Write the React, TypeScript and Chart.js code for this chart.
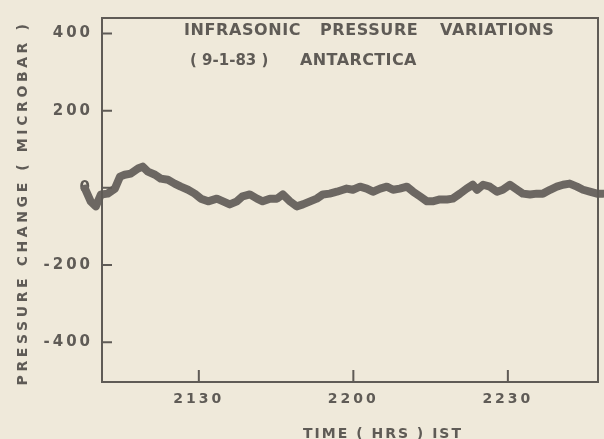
import React, { useEffect, useRef } from "react";
import { Chart, registerables } from "chart.js";

Chart.register(...registerables);

// Time in minutes after 2100 hrs IST
const timeMin = [
  7.9, 9.0, 10.0, 11.0, 12.3, 13.7, 14.7, 15.6, 16.8, 18.2, 19.1, 20.1, 21.5, 22.6, 24.0,
  25.3, 26.5, 27.9, 29.2, 30.4, 31.8, 33.5, 34.7, 36.0, 37.4, 38.5, 39.9, 41.3, 42.4, 43.8,
  45.2, 46.3, 47.7, 49.0, 50.2, 51.6, 52.9, 54.1, 55.4, 56.8, 58.0, 58.7, 59.9, 61.3, 62.6,
  63.8, 65.2, 66.5, 67.7, 69.0, 70.4, 71.6, 72.9, 74.3, 75.4, 76.8, 78.2, 79.3, 80.7, 82.0,
  83.2, 84.0, 85.2, 86.5, 87.9, 89.0, 90.4, 91.8, 92.9, 94.3, 95.6, 96.8, 98.2, 99.5, 100.7,
  102.0, 103.4, 104.6, 105.9, 107.3, 108.5,
];
// Pressure change (microbar)
const pressure = [
  -2, -35, -48, -17, -15, -2, 29, 34, 37, 50, 55, 42, 34, 24, 21,
  11, 3, -5, -15, -28, -35, -28, -35, -43, -35, -22, -17, -28, -35, -28,
  -28, -17, -35, -48, -43, -35, -28, -17, -15, -10, -5, -2, -5, 3, -2,
  -10, -2, 3, -5, -2, 3, -10, -22, -35, -35, -30, -30, -28, -15, -2,
  8, -5, 8, 3, -10, -5, 8, -5, -15, -17, -15, -15, -5, 3, 8,
  11, 3, -5, -10, -15, -15,
];

const xMin = 11.2;
const xMax = 107.5;
const yMin = -503;
const yMax = 440;

const yTickValues = [-400, -200, 0, 200, 400];
const yTickLabels = ["-400", "-200", "0", "200", "400"];
const xTickValues = [30, 60, 90];
const xTickLabels = ["2130", "2200", "2230"];

const titleWords1 = ["INFRASONIC", "PRESSURE", "VARIATIONS"];
const titleWords2 = ["( 9-1-83 )", "ANTARCTICA"];
const xTitle = "TIME ( HRS ) IST";
const yTitle = "PRESSURE CHANGE ( MICROBAR )";

const PAPER = "#efe9da";
const INK = "#5f5b56";
const TRACE = "#6c6762";
const FONT = "'DejaVu Sans'";

export default function App() {
  const ref = useRef<HTMLCanvasElement | null>(null);

  useEffect(() => {
    if (!ref.current) return;
    const decor = {
      id: "decor",
      beforeDraw(chart: any) {
        const ctx = chart.ctx;
        ctx.save();
        ctx.fillStyle = PAPER;
        ctx.fillRect(0, 0, chart.width, chart.height);
        ctx.restore();
        ctx.letterSpacing = "3px";
      },
      afterDraw(chart: any) {
        const ctx = chart.ctx;
        const { left, right, top, bottom } = chart.chartArea;
        const xs = chart.scales.x;
        const ys = chart.scales.y;
        ctx.save();
        ctx.strokeStyle = INK;
        ctx.lineWidth = 2;
        ctx.strokeRect(left, top, right - left, bottom - top);
        ctx.beginPath();
        yTickValues.forEach((v) => {
          const py = ys.getPixelForValue(v);
          ctx.moveTo(left, py);
          ctx.lineTo(left + 10, py);
        });
        xTickValues.forEach((v) => {
          const px = xs.getPixelForValue(v);
          ctx.moveTo(px, bottom);
          ctx.lineTo(px, bottom - 12);
        });
        ctx.stroke();

        ctx.fillStyle = INK;
        ctx.font = `bold 16px ${FONT}`;
        ctx.textBaseline = "middle";
        ctx.textAlign = "left";
        ctx.letterSpacing = "0.6px";
        const x1 = [184, 320, 440];
        titleWords1.forEach((w, i) => ctx.fillText(w, x1[i], 31));
        ctx.font = `bold 15px ${FONT}`;
        ctx.letterSpacing = "0px";
        ctx.fillText(titleWords2[0], 190, 61);
        ctx.font = `bold 16px ${FONT}`;
        ctx.letterSpacing = "0.4px";
        ctx.fillText(titleWords2[1], 300, 61);

        ctx.font = `bold 14px ${FONT}`;
        ctx.letterSpacing = "2px";
        ctx.textAlign = "center";
        ctx.fillText(xTitle, 383, 434);

        ctx.save();
        ctx.translate(23, 203);
        ctx.rotate(-Math.PI / 2);
        ctx.letterSpacing = "3.6px";
        ctx.fillText(yTitle, 0, 0);
        ctx.restore();

        ctx.restore();
        ctx.letterSpacing = "0px";
      },
    };

    const chart = new Chart(ref.current, {
      type: "line",
      data: {
        datasets: [
          {
            data: timeMin.map((t, i) => ({ x: t, y: pressure[i] })),
            borderColor: TRACE,
            borderWidth: 8,
            pointRadius: 0,
            tension: 0,
            clip: false as any,
            borderJoinStyle: "round",
            borderCapStyle: "round",
          },
        ],
      },
      options: {
        responsive: false,
        animation: false,
        layout: { padding: { top: 15, right: 6, bottom: 0, left: 0 } },
        plugins: { legend: { display: false }, tooltip: { enabled: false }, title: { display: false } },
        scales: {
          x: {
            type: "linear",
            bounds: "data",
            grid: { display: false, drawTicks: false },
            border: { display: false },
            afterDataLimits: (s: any) => {
              s.min = xMin;
              s.max = xMax;
            },
            afterBuildTicks: (s: any) => {
              s.min = xMin;
              s.max = xMax;
              s.ticks = xTickValues.map((v) => ({ value: v }));
            },
            afterFit: (s: any) => {
              s.height = 57;
            },
            ticks: {
              autoSkip: false,
              maxRotation: 0,
              padding: 9,
              color: INK,
              font: { family: FONT, size: 14, weight: "bold" },
              callback: (v: any) => {
                const i = xTickValues.indexOf(Number(v));
                return i >= 0 ? xTickLabels[i] : "";
              },
            },
          },
          y: {
            type: "linear",
            min: yMin,
            max: yMax,
            grid: { display: false, drawTicks: false },
            border: { display: false },
            afterBuildTicks: (s: any) => {
              s.ticks = yTickValues.map((v) => ({ value: v }));
            },
            afterFit: (s: any) => {
              s.width = 102;
            },
            ticks: {
              autoSkip: false,
              padding: 9,
              color: INK,
              font: { family: FONT, size: 15, weight: "bold" },
              callback: (v: any) => {
                const i = yTickValues.indexOf(Number(v));
                return i >= 0 ? yTickLabels[i] : "";
              },
            },
          },
        },
      },
      plugins: [decor],
    } as any);
    return () => chart.destroy();
  }, []);

  return (
    <div style={{ position: "fixed", left: 0, top: 0, width: 604, height: 439, background: PAPER }}>
      <canvas ref={ref} width={604} height={439} style={{ display: "block" }} />
    </div>
  );
}
